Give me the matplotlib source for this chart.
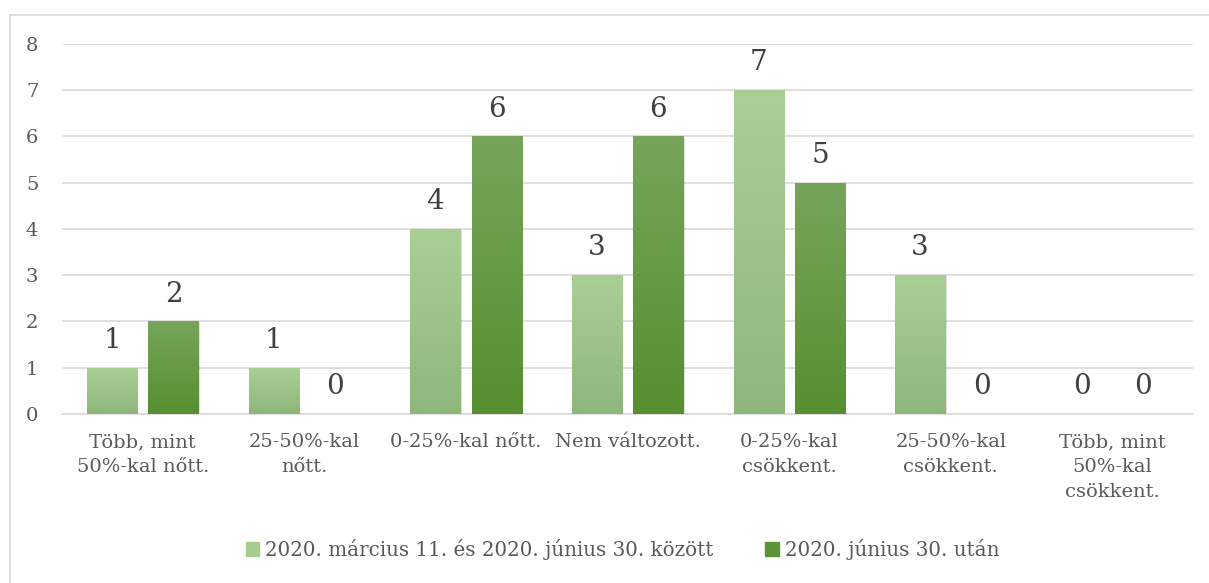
import numpy as np
import matplotlib.pyplot as plt
import matplotlib.patches as patches
from matplotlib.colors import LinearSegmentedColormap

categories = ["Több, mint\n50%-kal nőtt.", "25-50%-kal\nnőtt.", "0-25%-kal nőtt.",
              "Nem változott.", "0-25%-kal\ncsökkent.", "25-50%-kal\ncsökkent.",
              "Több, mint\n50%-kal\ncsökkent."]
series_names = ["2020. március 11. és 2020. június 30. között", "2020. június 30. után"]
period1 = [1, 1, 4, 3, 7, 3, 0]
period2 = [2, 0, 6, 6, 5, 0, 0]

plt.rcParams['font.family'] = ['DejaVu Serif']
text_color = '#595959'

fig = plt.figure(figsize=(12.09, 5.83), dpi=100)
ax = fig.add_axes([0.0513, 0.29, 0.9357, 0.6345])

# outer chart frame
fig.patches.append(patches.Rectangle((10 / 1209, -0.05), 1.1, 1.05 - 15 / 583,
                                     transform=fig.transFigure, fill=False,
                                     edgecolor='#d9d9d9', linewidth=1.2))

x = np.arange(len(categories))
width = 0.31
offset = 0.19

light_cmap = LinearSegmentedColormap.from_list('light', ['#8fb67b', '#aacf95'])
dark_cmap = LinearSegmentedColormap.from_list('dark', ['#578f30', '#76a55a'])

def gradient_bars(xs, vals, cmap, label):
    bars = ax.bar(xs, vals, width, color='none', edgecolor='none', label=label, zorder=3)
    grad = np.linspace(0, 1, 256).reshape(-1, 1)
    for b in bars:
        h = b.get_height()
        if h <= 0:
            continue
        x0, w = b.get_x(), b.get_width()
        # soft shadow
        ax.add_patch(patches.Rectangle((x0 + 0.008, 0), w, h - 0.02, facecolor='#000000',
                                       alpha=0.12, edgecolor='none', zorder=2))
        im = ax.imshow(grad, extent=[x0, x0 + w, 0, h], origin='lower', cmap=cmap,
                       aspect='auto', zorder=3)
        im.set_clip_path(b)
    return bars

gradient_bars(x - offset, period1, light_cmap, series_names[0])
gradient_bars(x + offset, period2, dark_cmap, series_names[1])

for xi, v in zip(x - offset, period1):
    ax.text(xi, v + 0.3, str(v), ha='center', va='bottom', fontsize=20, color='#404040')
for xi, v in zip(x + offset, period2):
    ax.text(xi, v + 0.3, str(v), ha='center', va='bottom', fontsize=20, color='#404040')

ax.set_xlim(-0.5, len(categories) - 0.5)
ax.set_ylim(0, 8)
ax.set_yticks(range(0, 9))
ax.yaxis.grid(True, color='#d9d9d9', linewidth=1.2, zorder=0)
ax.set_axisbelow(True)
ax.set_xticks(x)
ax.set_xticklabels(categories, fontsize=14, color=text_color, linespacing=1.5)
ax.tick_params(axis='y', length=0, labelsize=14, labelcolor=text_color, pad=26)
ax.tick_params(axis='x', length=0, pad=14)
for lab in ax.get_yticklabels():
    lab.set_horizontalalignment('left')
for s in ['top', 'right', 'left']:
    ax.spines[s].set_visible(False)
ax.spines['bottom'].set_color('#d9d9d9')
ax.spines['bottom'].set_linewidth(1.2)

handles = [patches.Patch(color='#a6cd8f'), patches.Patch(color='#5b9535')]
fig.legend(handles, series_names, loc='center', bbox_to_anchor=(0.515, 0.057), ncol=2,
           frameon=False, fontsize=14.3, labelcolor=text_color, handlelength=0.7,
           handleheight=0.7, handletextpad=0.3, columnspacing=2.6)

fig.savefig('out.png', dpi=100)
